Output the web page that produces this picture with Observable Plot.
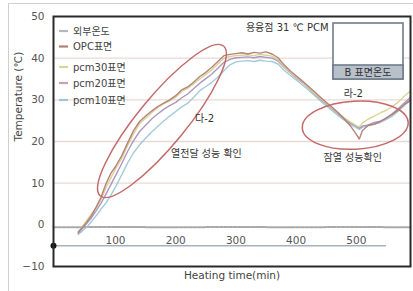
<!DOCTYPE html>
<html><head><meta charset="utf-8">
<script src="https://cdn.jsdelivr.net/npm/d3@7"></script>
<script src="https://cdn.jsdelivr.net/npm/@observablehq/plot@0.6"></script>
<style>
body{margin:0;background:#fff;}
#wrap{position:relative;width:413px;height:291px;overflow:hidden;background:#fff;}
#edge{position:absolute;left:8px;top:3px;width:430px;height:310px;border-left:1px solid #d0d0d0;border-top:1px solid #d0d0d0;pointer-events:none;}
#chart{position:absolute;left:0;top:0;}
</style></head><body><div id="wrap"><div id="chart"></div><div id="edge"></div></div>
<script>
// ---- data ----
const times = [38,45,52,60,68,76,84,92,100,110,120,130,140,150,160,170,180,190,200,210,220,230,240,250,260,270,280,290,300,310,320,330,340,350,360,370,380,390,400,410,420,430,440,450,460,470,480,490,500,505,510,520,530,540,550,560,570,580,590];
const opc   = [-1.8,-0.6,0.6,2.2,4.3,6.6,9.8,12.3,14.0,16.5,19.6,22.6,24.8,26.1,27.3,28.4,29.2,30.0,31.0,32.4,33.1,34.3,35.6,36.6,37.8,39.2,40.6,40.9,41.1,41.3,41.0,41.4,41.2,41.5,41.0,40.1,38.4,37.0,35.8,34.6,33.3,32.0,30.7,29.4,28.2,26.9,25.4,23.8,21.7,20.6,22.6,23.9,24.2,24.8,25.7,26.5,27.6,28.9,30.0];
const pcm30 = [-1.6,-0.4,1.0,2.6,4.0,6.1,8.9,11.2,13.4,15.8,19.0,21.8,24.3,25.6,26.9,28.1,29.0,29.8,30.6,32.0,32.8,33.9,35.0,36.1,37.2,38.6,40.0,40.4,40.6,40.7,40.8,40.6,40.9,40.7,40.5,39.6,38.0,36.6,35.5,34.4,33.0,31.6,30.4,29.2,28.0,26.8,25.7,24.7,23.8,23.5,24.4,25.4,26.1,26.9,27.5,28.4,29.5,30.9,32.1];
const pcm20 = [-2.0,-0.9,0.3,1.7,3.4,5.2,7.3,9.6,11.8,14.6,17.6,20.2,22.4,23.9,25.4,26.6,27.7,28.6,29.4,30.5,31.4,32.7,34.0,35.1,36.2,37.6,39.0,39.7,40.1,40.2,40.3,40.1,40.4,40.2,40.0,39.3,37.8,36.5,35.3,34.2,32.9,31.5,30.2,29.0,27.8,26.6,25.5,24.4,23.6,23.2,23.7,24.0,24.6,24.9,25.6,26.7,27.9,29.3,30.6];
const pcm10 = [-2.3,-1.5,-0.6,0.8,2.2,3.8,5.2,7.0,9.1,11.9,14.8,17.3,19.2,20.8,22.3,23.6,24.9,26.1,27.2,28.3,29.2,30.6,32.2,33.2,34.2,35.4,37.0,38.4,39.1,39.3,39.4,39.2,39.5,39.3,39.2,38.6,37.1,35.9,34.8,33.6,32.4,31.1,29.8,28.6,27.4,26.2,25.1,24.1,23.3,22.9,23.4,23.8,24.1,24.6,25.3,26.1,27.3,28.7,29.8];
const outdoorTimes = [-3,100,200,300,400,500,590];
const outdoor      = [-0.6,-0.5,-0.6,-0.5,-0.6,-0.5,-0.6];
const legendNames = ["외부온도","OPC표면","pcm30표면","pcm20표면","pcm10표면"];
const yTicks = [-10,0,10,20,30,40,50];
const gridVals = [10,20,30,40];
const xTicks = [100,200,300,400,500];
const xAxisLine = {temp: -5, from: -3, to: 550};
const notes = [
  {t: 248, v: 25.5, text: "다-2"},
  {t: 251, v: 17.1, text: "열전달 성능 확인"},
  {t: 495, v: 31.5, text: "라-2"},
  {t: 494, v: 16.2, text: "잠열 성능확인"}
];
const notesEnd = [{t: 454, v: 47.4, text: "용융점 31 ℃ PCM"}];
const ellipses = [
  {t: 178, v: 24.8, rx: 97, ry: 24, rot: -50.6},
  {t: 499, v: 23.8, rx: 53, ry: 24, rot: -3}
];

// ---- styles ----
const colors = {"외부온도":"#b9c2ca","OPC표면":"#b27c72","pcm30표면":"#d6d290","pcm20표면":"#a890bc","pcm10표면":"#9cc8d8"};
const legendSwatch = {"외부온도":"#b0bac4","OPC표면":"#b08078","pcm30표면":"#d8d69c","pcm20표면":"#c4a2ae","pcm10표면":"#9ec6d2"};
const font = "'DejaVu Sans','Noto Sans CJK KR',sans-serif";

const seriesList = [["pcm10표면", pcm10],["pcm20표면", pcm20],["pcm30표면", pcm30],["OPC표면", opc]];
const lineMarks = seriesList.map(([name, vals]) =>
  Plot.line(times.map((t,i)=>({t, v: vals[i]})), {x:"t", y:"v", stroke: colors[name], strokeWidth: 1.4, strokeOpacity: 0.95}));

function legendMark() {
  const g = d3.create("svg:g").attr("font-family", font).attr("font-size", 10);
  const ys = [31, 46.5, 67, 83, 100];
  legendNames.forEach((n,i)=>{
    g.append("line").attr("x1",59).attr("x2",68).attr("y1",ys[i]).attr("y2",ys[i])
      .attr("stroke", legendSwatch[n]).attr("stroke-width",2.2);
    g.append("text").attr("x",73).attr("y",ys[i]).attr("dy","0.35em").attr("text-anchor","start").attr("fill","#444").text(n);
  });
  g.append("rect").attr("x",333).attr("y",23).attr("width",70).attr("height",56).attr("fill","#fff").attr("stroke","#6e7c8c").attr("stroke-width",1.6);
  g.append("rect").attr("x",333).attr("y",65).attr("width",70).attr("height",14).attr("fill","#b9c0c9").attr("stroke","#6e7c8c").attr("stroke-width",1.6);
  g.append("text").attr("x",368).attr("y",72).attr("dy","0.35em").attr("text-anchor","middle").attr("fill","#333").text("B 표면온도");
  return g.node();
}
function ellipseMark(index, scales) {
  const g = d3.create("svg:g");
  ellipses.forEach(e=>{
    const cx = scales.x(e.t), cy = scales.y(e.v);
    g.append("ellipse").attr("cx",0).attr("cy",0).attr("rx",e.rx).attr("ry",e.ry)
      .attr("transform",`translate(${cx},${cy}) rotate(${e.rot})`)
      .attr("fill","none").attr("stroke","#c46a6a").attr("stroke-width",1.5);
  });
  return g.node();
}

const chart = Plot.plot({
  width: 413, height: 291,
  marginLeft: 53, marginRight: 3, marginTop: 16, marginBottom: 25,
  style: {fontFamily: font, fontSize: "10.5px", color: "#555", background: "transparent", overflow: "visible"},
  x: {domain: [-3, 590], axis: null},
  y: {domain: [-10, 50], ticks: yTicks, tickSize: 0, tickPadding: 9, label: null,
      tickFormat: d => d < 0 ? "−" + Math.abs(d) : String(d)},
  marks: [
    Plot.ruleY(gridVals, {stroke: "#ead8d8", strokeWidth: 1.3}),
    Plot.line(outdoorTimes.map((t,i)=>({t, v: outdoor[i]})), {x:"t", y:"v", stroke:"#a9a9a9", strokeWidth: 2, strokeDasharray: "3,1.5"}),
    Plot.ruleY([xAxisLine.temp], {x1: xAxisLine.from, x2: xAxisLine.to, stroke: "#a4b2c0", strokeWidth: 1.5}),
    Plot.dot([xAxisLine], {x: "from", y: "temp", r: 3, fill: "#111"}),
    Plot.text(xTicks, {x: d => d, y: xAxisLine.temp, dy: -5, text: d => String(d), fill: "#555", fontSize: 10.5}),
    ...lineMarks,
    ellipseMark,
    Plot.text(notes, {x: "t", y: "v", text: "text", textAnchor: "middle", fill: "#333", fontSize: 10}),
    Plot.text(notesEnd, {x: "t", y: "v", text: "text", textAnchor: "end", fill: "#333", fontSize: 10}),
    legendMark,
    Plot.frame({stroke: "#2a2a2a", strokeWidth: 2}),
    Plot.text(["Heating time(min)"], {frameAnchor: "bottom", dy: 12, fill: "#444", fontSize: 10.5}),
    Plot.text(["Temperature (℃)"], {frameAnchor: "left", dx: -35, rotate: -90, fill: "#444", fontSize: 10.5})
  ]
});
document.getElementById("chart").appendChild(chart);
</script></body></html>
